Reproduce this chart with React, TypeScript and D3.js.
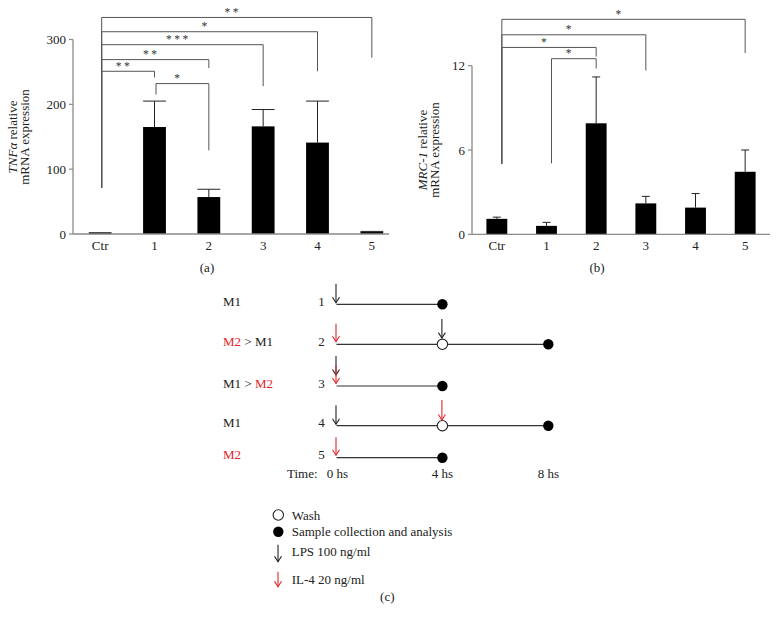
import React from "react";
import * as d3 from "d3";

const categories = ["Ctr", "1", "2", "3", "4", "5"];
const tnfMean = [1.5, 165, 57, 166, 141, 3];
const tnfSd = [0.5, 40, 12, 26, 64, 1];
const tnfTicks = [0, 100, 200, 300];
const mrcMean = [1.1, 0.6, 7.9, 2.2, 1.9, 4.45];
const mrcSd = [0.12, 0.25, 3.3, 0.5, 1.0, 1.55];
const mrcTicks = [0, 6, 12];

// brackets: from category, to category, level, left drop level, right drop level, label
const tnfBrackets = [
  { a: "Ctr", b: "5", level: 334, la: 71, lb: 272, label: "**" },
  { a: "Ctr", b: "4", level: 312, la: 71, lb: 251, label: "*" },
  { a: "Ctr", b: "3", level: 292, la: 71, lb: 228, label: "***" },
  { a: "Ctr", b: "2", level: 269, la: 71, lb: 256, label: "**" },
  { a: "Ctr", b: "1", level: 251, la: 71, lb: 241.5, label: "**" },
  { a: "1", b: "2", level: 232, la: 215, lb: 129, label: "*" },
];
const mrcBrackets = [
  { a: "Ctr", b: "5", level: 15.3, la: 5.0, lb: 12.9, label: "*" },
  { a: "Ctr", b: "3", level: 14.2, la: 5.0, lb: 11.65, label: "*" },
  { a: "Ctr", b: "2", level: 13.3, la: 5.0, lb: 12.65, label: "*" },
  { a: "1", b: "2", level: 12.5, la: 5.05, lb: 11.8, label: "*" },
];

// panel c
const rowIds = ["1", "2", "3", "4", "5"];
const rowLabels = [
  [{ t: "M1", red: false }],
  [{ t: "M2", red: true }, { t: " > M1", red: false }],
  [{ t: "M1 > ", red: false }, { t: "M2", red: true }],
  [{ t: "M1", red: false }],
  [{ t: "M2", red: true }],
];
const rowEnd = [4, 8, 4, 8, 4];
const rowWash = [null, 4, null, 4, null];
const rowLps = [[0], [4], [0], [0], []];
const rowIl4 = [[], [0], [0], [4], [0]];
const timeTicks = [0, 4, 8];
const legendItems = ["Wash", "Sample collection and analysis", "LPS 100 ng/ml", "IL-4 20 ng/ml"];

const FONT = "'Liberation Serif', 'DejaVu Serif', serif";
const RED = "#e3262b";
const AX = "#8a8a8a";
const BR = "#555";
const FS = 13;

function Arrow({ x, y2, len = 19, color }: { x: number; y2: number; len?: number; color: string }) {
  return (
    <g stroke={color} strokeWidth={1.1} fill="none">
      <line x1={x} x2={x} y1={y2 - len} y2={y2} />
      <polyline points={`${x - 3.5},${y2 - 5.5} ${x},${y2} ${x + 3.5},${y2 - 5.5}`} />
    </g>
  );
}

function BarPanel(props: {
  means: number[];
  sds: number[];
  ticks: number[];
  brackets: typeof tnfBrackets;
  xRange: [number, number];
  axisEnd: number;
  yDomainMax: number;
  yRange: [number, number];
  capFull: boolean;
  labelLines: React.ReactNode[];
  labelX: number[];
  labelY: number;
  panelLabel: string;
  panelX: number;
  bracketOffset: number;
}) {
  const x = d3.scaleBand<string>().domain(categories).range(props.xRange).paddingInner(0.58).paddingOuter(0.29);
  const y = d3.scaleLinear().domain([0, props.yDomainMax]).range(props.yRange);
  const x0 = props.xRange[0];
  const cx = (c: string) => (x(c) as number) + x.bandwidth() / 2;
  const bw = x.bandwidth();
  return (
    <g>
      {categories.map((c, i) => (
        <rect key={c} x={x(c)} y={y(props.means[i])} width={bw} height={y(0) - y(props.means[i])} fill="#000" />
      ))}
      {categories.map((c, i) => {
        const top = y(props.means[i] + props.sds[i]);
        const half = props.capFull ? bw / 2 : 4;
        return (
          <g key={c} stroke="#222" strokeWidth={1}>
            <line x1={cx(c)} x2={cx(c)} y1={y(props.means[i])} y2={top} />
            <line x1={cx(c) - half} x2={cx(c) + half} y1={top} y2={top} />
          </g>
        );
      })}
      <line x1={x0} x2={x0} y1={y(0)} y2={y(props.ticks[props.ticks.length - 1])} stroke={AX} strokeWidth={1.3} />
      <line x1={x0} x2={props.axisEnd} y1={y(0)} y2={y(0)} stroke={AX} strokeWidth={1.3} />
      {props.ticks.map((t) => (
        <g key={t}>
          <line x1={x0 - 4} x2={x0} y1={y(t)} y2={y(t)} stroke={AX} strokeWidth={1.2} />
          <text x={x0 - 7} y={y(t) + 4.5} textAnchor="end" fontSize={FS} fontFamily={FONT} fill="#222">
            {t}
          </text>
        </g>
      ))}
      {categories.map((c) => (
        <text key={c} x={cx(c)} y={y(0) + 16} textAnchor="middle" fontSize={FS} fontFamily={FONT} fill="#222">
          {c}
        </text>
      ))}
      {props.brackets.map((b, i) => {
        const xa = cx(b.a) + props.bracketOffset;
        const xb = cx(b.b);
        const yl = y(b.level);
        return (
          <g key={i}>
            <polyline
              points={`${xa},${y(b.la)} ${xa},${yl} ${xb},${yl} ${xb},${y(b.lb)}`}
              fill="none"
              stroke={BR}
              strokeWidth={1}
            />
            <text
              x={(xa + xb) / 2 - 4}
              y={yl - 1.5}
              textAnchor="middle"
              fontSize={11.5}
              letterSpacing={2.5}
              fontFamily={FONT}
              fill="#333"
            >
              {b.label}
            </text>
          </g>
        );
      })}
      {props.labelLines.map((l, i) => (
        <text
          key={i}
          transform={`translate(${props.labelX[i]},${props.labelY}) rotate(-90)`}
          textAnchor="middle"
          fontSize={FS}
          fontFamily={FONT}
          fill="#222"
        >
          {l}
        </text>
      ))}
      <text x={props.panelX} y={272} textAnchor="middle" fontSize={FS} fontFamily={FONT} fill="#222">
        {props.panelLabel}
      </text>
    </g>
  );
}

export default function App() {
  const t = d3.scaleLinear().domain([0, 8]).range([336.5, 548.3]);
  const rowY = [304.3, 344.3, 386, 425.7, 457.7];
  const r = 5.2;
  return (
    <svg width={778} height={631} style={{ position: "absolute", left: 0, top: 0, background: "#fff" }}>
      <rect width={778} height={631} fill="#fff" />
      <BarPanel
        means={tnfMean}
        sds={tnfSd}
        ticks={tnfTicks}
        brackets={tnfBrackets}
        xRange={[73, 399]}
        axisEnd={389}
        yDomainMax={300}
        yRange={[234, 39.5]}
        capFull={true}
        labelLines={[
          <>
            <tspan fontStyle="italic">TNFα</tspan> relative
          </>,
          "mRNA expression",
        ]}
        labelX={[17, 29]}
        labelY={137}
        panelLabel="(a)"
        panelX={207}
        bracketOffset={1.5}
      />
      <BarPanel
        means={mrcMean}
        sds={mrcSd}
        ticks={mrcTicks}
        brackets={mrcBrackets}
        xRange={[472, 770]}
        axisEnd={770}
        yDomainMax={12}
        yRange={[234.3, 65.7]}
        capFull={false}
        labelLines={[
          <>
            <tspan fontStyle="italic">MRC-1</tspan> relative
          </>,
          "mRNA expression",
        ]}
        labelX={[427, 439]}
        labelY={150}
        panelLabel="(b)"
        panelX={597}
        bracketOffset={5}
      />
      {rowIds.map((id, i) => {
        const ly = rowY[i];
        return (
          <g key={id}>
            <text x={223} y={ly + 1.5} fontSize={FS} fontFamily={FONT} fill="#222">
              {rowLabels[i].map((s, j) => (
                <tspan key={j} fill={s.red ? RED : "#222"} style={{ whiteSpace: "pre" }}>
                  {s.t}
                </tspan>
              ))}
            </text>
            <text x={321.5} y={ly + 1.5} textAnchor="middle" fontSize={FS} fontFamily={FONT} fill="#222">
              {id}
            </text>
            <line x1={t(0)} x2={t(rowEnd[i])} y1={ly} y2={ly} stroke="#333" strokeWidth={1.2} />
            {rowWash[i] !== null && (
              <circle cx={t(rowWash[i] as number)} cy={ly} r={r} fill="#fff" stroke="#222" strokeWidth={1.1} />
            )}
            <circle cx={t(rowEnd[i])} cy={ly} r={r} fill="#000" />
            {rowLps[i].map((h) => {
              const stacked = rowIl4[i].includes(h);
              const end = h === 0 ? (stacked ? ly - 11 : ly - 1.5) : ly - r - 1;
              return <Arrow key={"l" + h} x={t(h) - 0.5} y2={end} color="#222" />;
            })}
            {rowIl4[i].map((h) => {
              const end = h === 0 ? ly - 2.5 : ly - r - 0.5;
              return <Arrow key={"i" + h} x={t(h) - 0.5} y2={end} color={RED} len={h === 0 ? 18 : 20} />;
            })}
          </g>
        );
      })}
      <text x={287} y={478} fontSize={FS} fontFamily={FONT} fill="#222">
        Time:
      </text>
      {timeTicks.map((h) => (
        <text key={h} x={t(h) + (h === 0 ? 1 : 0)} y={478} textAnchor="middle" fontSize={FS} fontFamily={FONT} fill="#222">
          {h} hs
        </text>
      ))}
      <circle cx={278.3} cy={515} r={r} fill="#fff" stroke="#222" strokeWidth={1.1} />
      <circle cx={278.3} cy={531.7} r={r} fill="#000" />
      <Arrow x={278} y2={561.7} len={17} color="#222" />
      <Arrow x={278} y2={586.7} len={15} color={RED} />
      {legendItems.map((s, i) => (
        <text key={s} x={291.7} y={[519.5, 536, 556, 583.5][i]} fontSize={FS} fontFamily={FONT} fill="#222">
          {s}
        </text>
      ))}
      <text x={387.3} y={601} textAnchor="middle" fontSize={FS} fontFamily={FONT} fill="#222">
        (c)
      </text>
    </svg>
  );
}
